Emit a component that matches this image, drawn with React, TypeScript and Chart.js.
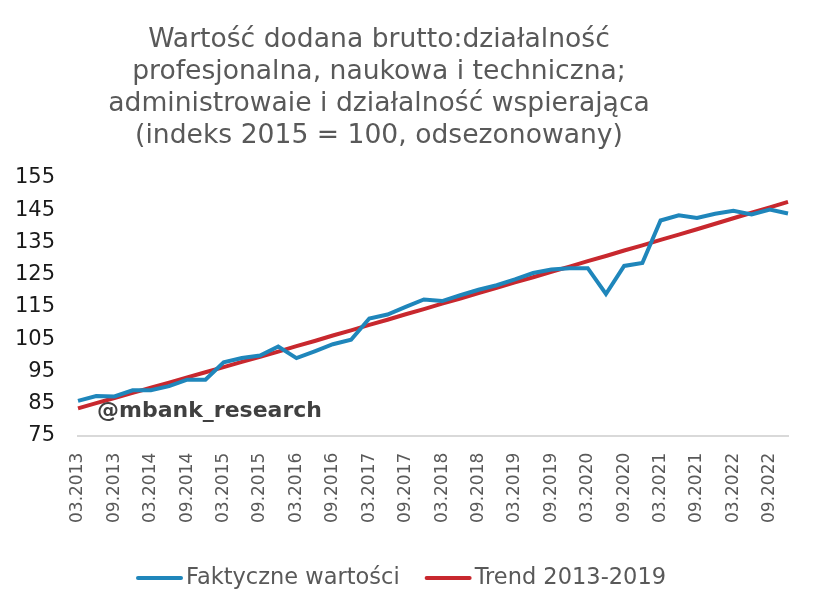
import React, { useEffect, useRef } from "react";
import { Chart, registerables } from "chart.js";

Chart.register(...registerables);

const quarters: string[] = [
  "03.2013", "06.2013", "09.2013", "12.2013",
  "03.2014", "06.2014", "09.2014", "12.2014",
  "03.2015", "06.2015", "09.2015", "12.2015",
  "03.2016", "06.2016", "09.2016", "12.2016",
  "03.2017", "06.2017", "09.2017", "12.2017",
  "03.2018", "06.2018", "09.2018", "12.2018",
  "03.2019", "06.2019", "09.2019", "12.2019",
  "03.2020", "06.2020", "09.2020", "12.2020",
  "03.2021", "06.2021", "09.2021", "12.2021",
  "03.2022", "06.2022", "09.2022", "12.2022",
];

const actualValues: number[] = [
  85.8, 87.3, 87.2, 89.1, 89.1, 90.4, 92.4, 92.4,
  97.8, 99.1, 99.9, 102.7, 99.1, 101.2, 103.4, 104.8,
  111.4, 112.6, 115.0, 117.3, 116.8, 118.6, 120.3, 121.7,
  123.5, 125.5, 126.6, 127.0, 127.0, 119.0, 127.7, 128.6,
  141.8, 143.4, 142.6, 143.9, 144.8, 143.7, 145.2, 144.0,
];

const trendValues: number[] = [
  83.5, 85.1, 86.7, 88.3, 89.9, 91.5, 93.1, 94.7,
  96.3, 97.9, 99.5, 101.1, 102.8, 104.4, 106.1, 107.7,
  109.4, 111.0, 112.7, 114.3, 116.0, 117.6, 119.3, 120.9,
  122.6, 124.2, 125.9, 127.5, 129.2, 130.8, 132.5, 134.1,
  135.8, 137.4, 139.1, 140.8, 142.5, 144.2, 145.9, 147.6,
];

const titleLines: string[] = [
  "Wartość dodana brutto:działalność",
  "profesjonalna, naukowa i techniczna;",
  "administrowaie i działalność wspierająca",
  "(indeks 2015 = 100, odsezonowany)",
];

const watermark = "@mbank_research";
const seriesNames: string[] = ["Faktyczne wartości", "Trend 2013-2019"];

const BLUE = "#1f86bb";
const RED = "#c8282e";
const FONT = "'DejaVu Sans', Verdana, sans-serif";

const overlayPlugin = {
  id: "overlayText",
  afterDraw(chart: any) {
    const ctx = chart.ctx;
    ctx.save();
    // title
    ctx.fillStyle = "#595959";
    ctx.font = `26.6px ${FONT}`;
    ctx.textAlign = "center";
    ctx.textBaseline = "middle";
    titleLines.forEach((line, i) => {
      ctx.fillText(line, 379, 40 + i * 32);
    });
    // watermark
    ctx.fillStyle = "#404040";
    ctx.font = `bold 22px ${FONT}`;
    ctx.textAlign = "left";
    ctx.fillText(watermark, 97, 411);
    // legend
    const lineW = 47;
    const gapText = 3;
    const gapItem = 25;
    ctx.font = `22.5px ${FONT}`;
    let x = 136;
    const y = 578;
    chart.data.datasets.forEach((ds: any) => {
      const w = ctx.measureText(ds.label).width;
      ctx.strokeStyle = ds.borderColor;
      ctx.lineWidth = 4;
      ctx.lineCap = "round";
      ctx.beginPath();
      ctx.moveTo(x + 2, y);
      ctx.lineTo(x + lineW - 2, y);
      ctx.stroke();
      ctx.fillStyle = "#595959";
      ctx.fillText(ds.label, x + lineW + gapText, y);
      x += lineW + gapText + w + gapItem;
    });
    ctx.restore();
  },
};

export default function App() {
  const canvasRef = useRef<HTMLCanvasElement | null>(null);

  useEffect(() => {
    if (!canvasRef.current) return;
    const chart = new Chart(canvasRef.current, {
      type: "line",
      data: {
        labels: quarters,
        datasets: [
          {
            label: seriesNames[0],
            data: actualValues,
            borderColor: BLUE,
            backgroundColor: BLUE,
            borderWidth: 4,
            pointRadius: 0,
            tension: 0,
          },
          {
            label: seriesNames[1],
            data: trendValues,
            borderColor: RED,
            backgroundColor: RED,
            borderWidth: 4,
            pointRadius: 0,
            tension: 0,
          },
        ],
      },
      options: {
        animation: false,
        responsive: false,
        maintainAspectRatio: false,
        layout: { padding: { top: 178, left: 11, right: 25, bottom: 72 } },
        plugins: {
          title: { display: false },
          tooltip: { enabled: false },
          legend: { display: false },
        },
        scales: {
          x: {
            type: "category",
            offset: false,
            grid: { display: false, drawTicks: false },
            border: { display: true, color: "#d9d9d9", width: 2 },
            afterFit: (scale: any) => {
              scale.paddingLeft = 0;
              scale.paddingRight = 0;
            },
            ticks: {
              autoSkip: false,
              maxRotation: 90,
              minRotation: 90,
              padding: 17,
              color: "#595959",
              font: { size: 17, family: FONT },
              callback: (_v: any, i: number) => (i % 2 === 0 ? quarters[i] : ""),
            },
          },
          y: {
            min: 75,
            max: 155,
            grid: { display: false, drawTicks: false },
            border: { display: false },
            afterFit: (scale: any) => {
              scale.width = 67;
            },
            ticks: {
              stepSize: 10,
              padding: 23,
              color: "#1a1a1a",
              font: { size: 21, family: FONT },
            },
          },
        },
      },
      plugins: [overlayPlugin],
    } as any);
    return () => chart.destroy();
  }, []);

  return (
    <div style={{ position: "fixed", left: 0, top: 0, width: 813, height: 612, background: "#fff" }}>
      <canvas ref={canvasRef} width={813} height={612} style={{ width: 813, height: 612 }} />
    </div>
  );
}
